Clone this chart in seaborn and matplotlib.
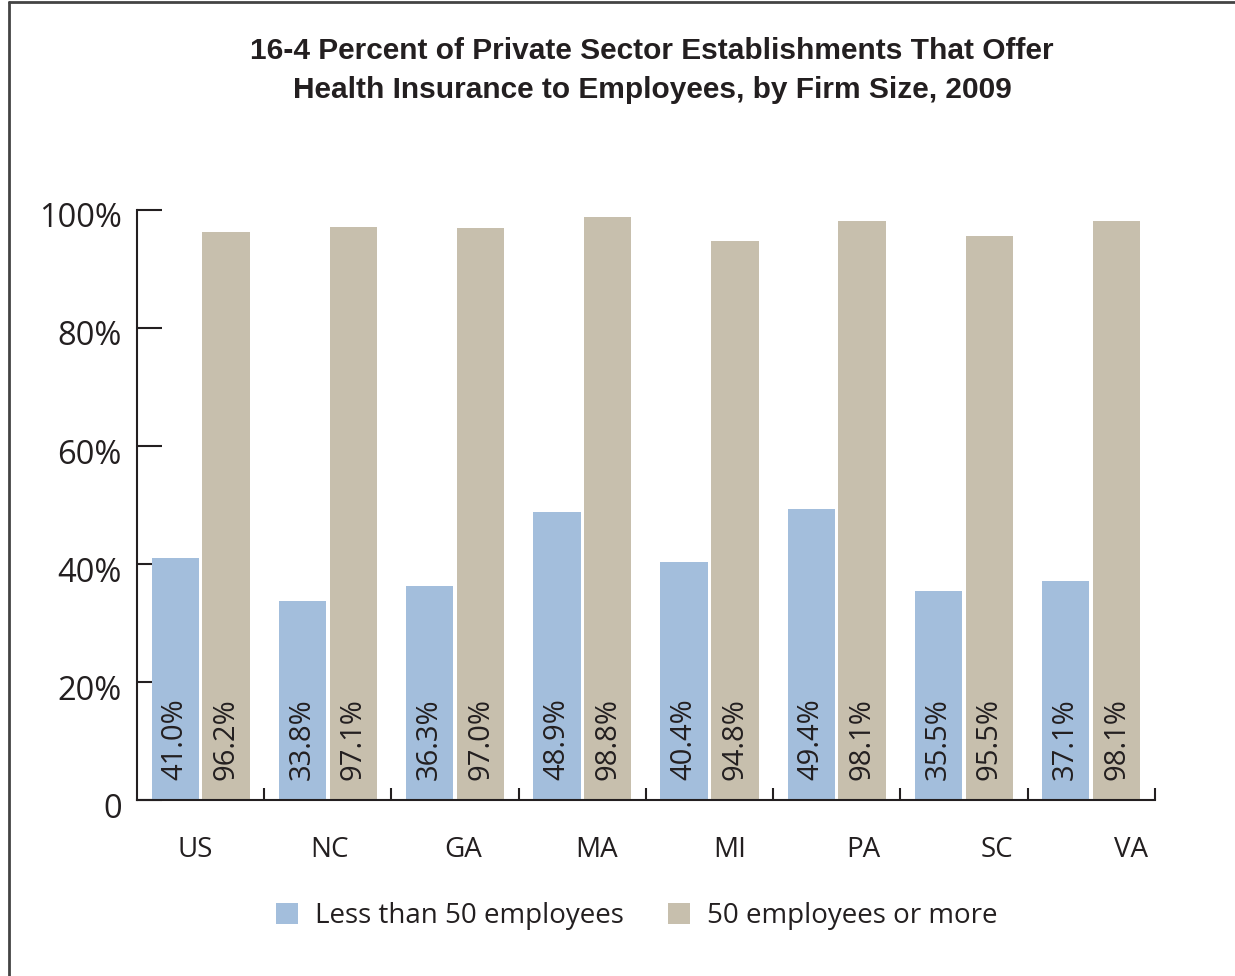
import pandas as pd
import numpy as np
import matplotlib
matplotlib.use("Agg")
import matplotlib.pyplot as plt
import matplotlib.transforms as mtransforms
from matplotlib.lines import Line2D
import seaborn as sns

# Chart data
states = ["US", "NC", "GA", "MA", "MI", "PA", "SC", "VA"]
small_firms = [41.0, 33.8, 36.3, 48.9, 40.4, 49.4, 35.5, 37.1]
large_firms = [96.2, 97.1, 97.0, 98.8, 94.8, 98.1, 95.5, 98.1]
series_names = ["Less than 50 employees", "50 employees or more"]
y_ticks = [0, 20, 40, 60, 80, 100]
y_tick_labels = ["0", "20%", "40%", "60%", "80%", "100%"]
title = ("16-4 Percent of Private Sector Establishments That Offer\n"
         "Health Insurance to Employees, by Firm Size, 2009")

colors = ["#A3BEDC", "#C7BFAD"]
ink = "#231F20"

df = pd.DataFrame({
    "state": states * 2,
    "size": [series_names[0]] * len(states) + [series_names[1]] * len(states),
    "pct": small_firms + large_firms,
})

sns.set_style("white")
plt.rcParams["font.family"] = ["Open Sans", "DejaVu Sans"]

fig = plt.figure(figsize=(12.35, 9.76), dpi=100)
ax = fig.add_axes([0.111, 0.180, 0.824, 0.605])

sns.barplot(data=df, x="state", y="pct", hue="size", palette=colors,
            width=0.8, gap=0.07, saturation=1, linewidth=0, ax=ax,
            legend=True)

# value labels, rotated, near the bottom of each bar
for cont in ax.containers:
    for bar, val in zip(cont, cont.datavalues):
        ax.text(bar.get_x() + bar.get_width() / 2, 3.4, f"{val:.1f}%",
                rotation=90, ha="center", va="bottom", fontsize=21, color=ink)

ax.set_xlim(-0.5, len(states) - 0.5)
ax.set_ylim(0, 100)
ax.set_yticks(y_ticks)
ax.set_yticklabels(y_tick_labels)
ax.set_xlabel("")
ax.set_ylabel("")

# category labels sit a bit right of group centres in the original
label_pos = [-0.04 + i * 1.05 for i in range(len(states))]
ax.set_xticks(label_pos)
ax.set_xticklabels(states)
ax.set_xticks(np.arange(0.5, len(states), 1), minor=True)

ax.tick_params(axis="y", direction="in", length=18, width=1.5, color=ink,
               labelsize=23.5, labelcolor=ink, pad=11, left=True)
ax.tick_params(axis="x", which="major", length=0, labelsize=20,
               labelcolor=ink, pad=26)
ax.tick_params(axis="x", which="minor", direction="in", length=9,
               width=1.5, color=ink, bottom=True)

# y labels sit slightly below their ticks in the original
shift = mtransforms.ScaledTranslation(0, -5 / 100, fig.dpi_scale_trans)
for lab in ax.get_yticklabels():
    lab.set_transform(lab.get_transform() + shift)

for side in ["top", "right"]:
    ax.spines[side].set_visible(False)
for side in ["left", "bottom"]:
    ax.spines[side].set_color(ink)
    ax.spines[side].set_linewidth(1.5)

handles, labels = ax.get_legend_handles_labels()
ax.legend(handles, labels, loc="center", bbox_to_anchor=(0.491, -0.196),
          ncol=2, frameon=False, fontsize=20, handlelength=0.8,
          handleheight=0.8, handletextpad=0.6, columnspacing=1.6,
          labelcolor=ink)

fig.suptitle(title, x=0.528, y=0.962, fontsize=21.5, fontweight="bold",
             family="Liberation Sans", color=ink, linespacing=1.5)

# partial frame around the figure (top and left edges)
fig.add_artist(Line2D([0.007, 1.0], [0.998, 0.998], color="#444444", lw=2,
                      transform=fig.transFigure))
fig.add_artist(Line2D([0.007, 0.007], [0.0, 0.998], color="#444444", lw=2,
                      transform=fig.transFigure))

fig.savefig("out.png", dpi=100)
